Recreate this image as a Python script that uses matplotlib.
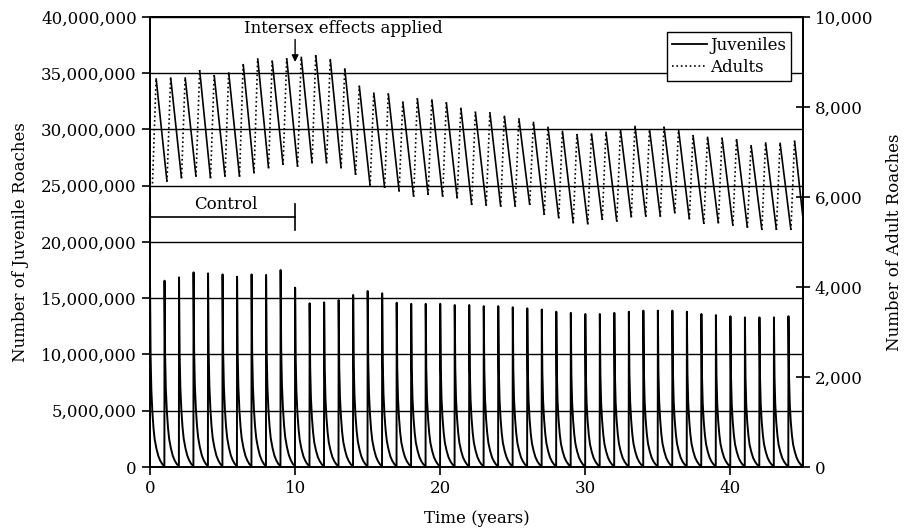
import numpy as np
import matplotlib
matplotlib.use("Agg")
import matplotlib.pyplot as plt
from matplotlib.collections import LineCollection
from matplotlib.lines import Line2D

# juvenile spike heights, one per year (t = 0 .. 44)
juv_peaks = [16.47e6, 16.56e6, 16.86e6, 17.30e6, 17.21e6, 17.12e6, 16.92e6, 17.12e6,
             17.07e6, 17.51e6, 15.94e6, 14.55e6, 14.63e6, 14.84e6, 15.29e6, 15.64e6,
             15.44e6, 14.60e6, 14.50e6, 14.50e6, 14.50e6, 14.40e6, 14.40e6, 14.30e6,
             14.30e6, 14.20e6, 14.10e6, 14.00e6, 13.80e6, 13.70e6, 13.60e6, 13.60e6,
             13.70e6, 13.80e6, 13.90e6, 13.90e6, 13.90e6, 13.80e6, 13.60e6, 13.50e6,
             13.40e6, 13.30e6, 13.30e6, 13.30e6, 13.40e6]
juv_end = 12.0e6  # value at t = 45, the start of the last spike
# shape of one yearly decay (years after the spike, share of the peak)
decay_offsets = [0.0, 0.04, 0.09, 0.16, 0.24, 0.32, 0.44, 0.57, 0.70, 0.85, 0.99]
decay_fracs = [1.0, 0.60, 0.42, 0.30, 0.21, 0.15, 0.10, 0.06, 0.035, 0.015, 0.005]

# adults (right axis): yearly peak and the low point reached before the next rise
adult_start = 6300
adult_peaks = [8638, 8660, 8660, 8822, 8711, 8771, 8956, 9082, 9029, 9082,
               9118, 9156, 9067, 8860, 8473, 8318, 8304, 8118, 8193, 8171,
               8104, 7984, 7896, 7882, 7807, 7749, 7673, 7562, 7473, 7400,
               7416, 7451, 7500, 7584, 7511, 7562, 7511, 7378, 7340, 7318,
               7289, 7156, 7216, 7207, 7251]
adult_troughs = [6340, 6416, 6451, 6416, 6451, 6451, 6527, 6638, 6711, 6673,
                 6749, 6749, 6638, 6489, 6251, 6200, 6122, 6007, 6044, 6007,
                 5971, 5822, 5807, 5784, 5784, 5822, 5600, 5527, 5416, 5393,
                 5489, 5451, 5549, 5562, 5562, 5638, 5504, 5400, 5416, 5362,
                 5318, 5267, 5267, 5267]
adult_end = 5533
peak_offset = 0.42
trough_offset = 0.17

# build the juvenile curve
juv_t, juv_y = [], []
for k, pk in enumerate(juv_peaks):
    for off, fr in zip(decay_offsets, decay_fracs):
        juv_t.append(k + off)
        juv_y.append(pk * fr)
juv_t.append(len(juv_peaks))
juv_y.append(juv_end)

# build the adult curve
ad_t = [trough_offset]
ad_y = [adult_start]
for k, pk in enumerate(adult_peaks):
    ad_t.append(k + peak_offset)
    ad_y.append(pk)
    if k < len(adult_troughs):
        ad_t.append(k + 1 + trough_offset)
        ad_y.append(adult_troughs[k])
ad_t.append(45)
ad_y.append(adult_end)

plt.rcParams["font.family"] = "DejaVu Serif"
plt.rcParams["font.size"] = 12

fig = plt.figure(figsize=(9.07, 5.29), dpi=100)
ax = fig.add_axes([0.1654, 0.1172, 0.7199, 0.8507])
ax2 = ax.twinx()

ax.plot(juv_t, juv_y, color="k", lw=1.4)

segs, styles = [], []
for i in range(len(ad_t) - 1):
    segs.append([(ad_t[i], ad_y[i]), (ad_t[i + 1], ad_y[i + 1])])
    styles.append(":" if ad_y[i + 1] > ad_y[i] else "-")
ax2.add_collection(LineCollection(segs, colors="k", linewidths=1.2, linestyles=styles))

ax.set_xlim(0, 45)
ax.set_ylim(0, 40e6)
ax2.set_ylim(0, 10000)
ax.set_xticks([0, 10, 20, 30, 40])
ax.set_yticks(np.arange(0, 40e6 + 1, 5e6))
ax2.set_yticks(np.arange(0, 10001, 2000))
ax.set_yticklabels([f"{v:,.0f}" for v in ax.get_yticks()])
ax2.set_yticklabels([f"{v:,.0f}" for v in ax2.get_yticks()])

ax.grid(axis="y", color="k", lw=1.0)
ax.set_axisbelow(True)
for a in (ax, ax2):
    for s in a.spines.values():
        s.set_linewidth(1.3)
ax.tick_params(axis="both", direction="out", length=6, width=1.2)
ax2.tick_params(axis="y", direction="inout", length=10, width=1.2)

ax.set_xlabel("Time (years)", labelpad=9)
ax.set_ylabel("Number of Juvenile Roaches", labelpad=9)
ax2.set_ylabel("Number of Adult Roaches", labelpad=9)

# annotations
ax.text(13.3, 39.0e6, "Intersex effects applied", ha="center", va="center")
ax.annotate("", xy=(10, 36.0e6), xytext=(10, 38.0e6),
            arrowprops=dict(arrowstyle="-|>", color="k", lw=1.0, mutation_scale=10,
                            shrinkA=0, shrinkB=0))
ax.plot([0, 10], [22.25e6, 22.25e6], color="k", lw=1.2, clip_on=False)
ax.plot([0, 0], [21.1e6, 23.4e6], color="k", lw=1.5, clip_on=False)
ax.plot([10, 10], [21.1e6, 23.4e6], color="k", lw=1.2, clip_on=False)
ax.text(5.2, 22.6e6, "Control", ha="center", va="bottom")

handles = [Line2D([], [], color="k", lw=1.3, ls="-"),
           Line2D([], [], color="k", lw=1.2, ls=":")]
leg = ax2.legend(handles, ["Juveniles", "Adults"], loc="upper right",
                 bbox_to_anchor=(0.982, 0.967), borderaxespad=0, fancybox=False,
                 edgecolor="k", framealpha=1, handlelength=2.1, handletextpad=0.2,
                 borderpad=0.3, labelspacing=0.3)
leg.get_frame().set_linewidth(1.0)

fig.savefig("out.png", dpi=100)
